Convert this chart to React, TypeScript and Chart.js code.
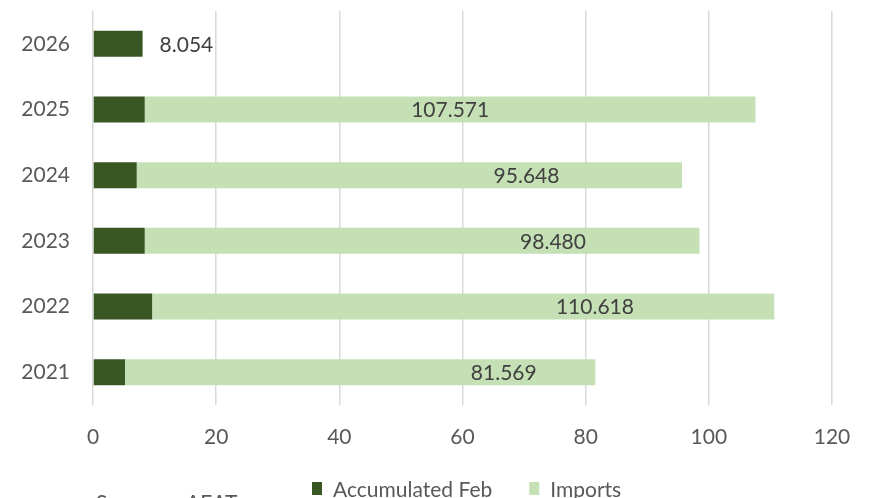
import React, { useEffect, useRef } from "react";
import { Chart, registerables } from "chart.js";

Chart.register(...registerables);

// ---- data ----
const years = ["2021", "2022", "2023", "2024", "2025", "2026"];
const accumulatedFeb = [5.2, 9.6, 8.4, 7.1, 8.4, 8.054];
const importsTotal = [81.569, 110.618, 98.48, 95.648, 107.571, null];
const xTicks = [0, 20, 40, 60, 80, 100, 120];

const FONT = "Lato, 'Open Sans', sans-serif";
const DARK = "#385723";
const LIGHT = "#C5E0B4";
const TEXT = "#595959";
const LABEL = "#404040";

const labelsPlugin = {
  id: "valueLabels",
  afterDatasetsDraw(chart: any, _args: any, opts: any) {
    const { ctx } = chart;
    const x = chart.scales.x;
    const metaFeb = chart.getDatasetMeta(0);
    ctx.save();
    ctx.font = `21px ${FONT}`;
    ctx.fillStyle = LABEL;
    ctx.textBaseline = "middle";
    years.forEach((_, i) => {
      const el = metaFeb.data[i];
      const yc = el.y;
      const tot = importsTotal[i];
      if (tot !== null && tot !== undefined) {
        const anchor = opts.anchors[i];
        ctx.textAlign = "center";
        ctx.fillText(tot.toFixed(3), x.getPixelForValue(anchor), yc + 1);
      } else {
        ctx.textAlign = "left";
        ctx.fillText(accumulatedFeb[i].toFixed(3), el.x + 17, yc + 1);
      }
    });
    ctx.restore();
  },
};

const legendPlugin = {
  id: "customLegend",
  afterDraw(chart: any, _args: any, opts: any) {
    const { ctx } = chart;
    ctx.save();
    ctx.font = `21px ${FONT}`;
    ctx.textBaseline = "alphabetic";
    ctx.textAlign = "left";
    const ds = chart.data.datasets;
    let xPos = opts.x;
    ds.forEach((d: any) => {
      ctx.fillStyle = d.backgroundColor;
      ctx.fillRect(xPos, opts.boxTop, 10, 13);
      ctx.fillStyle = TEXT;
      ctx.fillText(d.label, xPos + 21, opts.baseline);
      const w = ctx.measureText(d.label).width;
      xPos += 21 + w + 37;
    });
    ctx.fillStyle = TEXT;
    ctx.fillText(opts.sourceLabel, opts.sourceX, opts.sourceBaseline);
    ctx.fillText(opts.sourceName, opts.sourceNameX, opts.sourceBaseline);
    ctx.restore();
  },
};

export default function App() {
  const ref = useRef<HTMLCanvasElement>(null);
  useEffect(() => {
    if (!ref.current) return;
    const chart = new Chart(ref.current, {
      type: "bar",
      data: {
        labels: years,
        datasets: [
          {
            label: "Accumulated Feb",
            data: accumulatedFeb.map((v) => [0, v]) as any,
            backgroundColor: DARK,
            grouped: false,
            categoryPercentage: 1,
            barPercentage: 0.396,
          } as any,
          {
            label: "Imports",
            data: importsTotal.map((t, i) => (t === null ? null : [accumulatedFeb[i], t])) as any,
            backgroundColor: LIGHT,
            grouped: false,
            categoryPercentage: 1,
            barPercentage: 0.396,
          } as any,
        ],
      },
      options: {
        indexAxis: "y",
        animation: false,
        responsive: false,
        maintainAspectRatio: false,
        layout: { padding: { top: 11, right: 39, bottom: 49, left: 0 } },
        plugins: {
          legend: { display: false },
          tooltip: { enabled: false },
          valueLabels: { anchors: [66.7, 81.5, 74.7, 70.4, 58.0, null] },
          customLegend: {
            x: 312,
            boxTop: 482,
            baseline: 497,
            sourceLabel: "Source:",
            sourceName: "AEAT",
            sourceX: 96,
            sourceNameX: 186,
            sourceBaseline: 510,
          },
        } as any,
        scales: {
          x: {
            min: 0,
            max: 120,
            afterBuildTicks: (s: any) => {
              s.ticks = xTicks.map((v) => ({ value: v }));
            },
            afterFit: (s: any) => {
              s.height = 44;
              s.paddingLeft = 0;
              s.paddingRight = 0;
            },
            grid: { color: "#D9D9D9", lineWidth: 1.5, drawTicks: false },
            border: { display: false },
            ticks: { color: TEXT, font: { family: FONT, size: 21 }, padding: 20 },
          },
          y: {
            reverse: true,
            afterFit: (s: any) => {
              s.width = 93;
              s.paddingTop = 0;
              s.paddingBottom = 0;
            },
            grid: { display: false, drawTicks: false },
            border: { display: false },
            ticks: { color: TEXT, font: { family: FONT, size: 21 }, padding: 23 },
          },
        },
      },
      plugins: [labelsPlugin, legendPlugin],
    });
    return () => chart.destroy();
  }, []);
  return (
    <div style={{ position: "fixed", left: 0, top: 0, width: 871, height: 498, background: "#fff" }}>
      <canvas ref={ref} width={871} height={498} style={{ display: "block" }} />
    </div>
  );
}
